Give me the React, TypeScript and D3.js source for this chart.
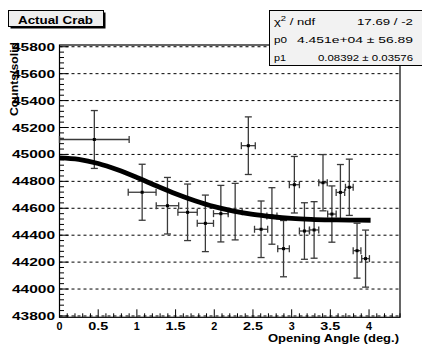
import React from "react";
import * as d3 from "d3";

const ptX = [0.45, 1.068, 1.395, 1.655, 1.885, 2.085, 2.27, 2.44, 2.605, 2.745, 2.895, 3.035, 3.165, 3.29, 3.405, 3.52, 3.63, 3.745, 3.845, 3.955];
const ptXErr = [0.45, 0.18, 0.145, 0.125, 0.105, 0.095, 0.09, 0.09, 0.085, 0.065, 0.075, 0.065, 0.065, 0.06, 0.055, 0.055, 0.055, 0.05, 0.05, 0.05];
const ptY = [45111, 44719, 44619, 44570, 44488, 44560, 44575, 45065, 44444, 44543, 44300, 44775, 44431, 44439, 44790, 44557, 44718, 44756, 44285, 44226];
const ptYErr = [215, 208, 210, 210, 210, 210, 210, 214, 210, 210, 209, 210, 210, 210, 209, 209, 207, 209, 204, 212];

const curveX = [0, 0.25, 0.5, 0.75, 1.0, 1.25, 1.5, 1.75, 2.0, 2.25, 2.5, 2.75, 3.0, 3.25, 3.5, 3.75, 4.02];
const curveY = [44975, 44964, 44933, 44886, 44829, 44767, 44708, 44656, 44612, 44579, 44554, 44537, 44525, 44518, 44514, 44512, 44511];

const yTicks = [43800, 44000, 44200, 44400, 44600, 44800, 45000, 45200, 45400, 45600, 45800];
const xTicks = [0, 0.5, 1, 1.5, 2, 2.5, 3, 3.5, 4];

const statsRows = [
  { label: "χ² / ndf", value: "17.69 / -2" },
  { label: "p0", value: "4.451e+04 ± 56.89" },
  { label: "p1", value: "0.08392 ± 0.03576" },
];

export default function App() {
  const W = 422, H = 346;
  const left = 59.5, right = 400, top = 45, bottom = 317.3;
  const x = d3.scaleLinear().domain([0, 4.4]).range([left, right]);
  const y = d3.scaleLinear().domain([43790, 45813]).range([bottom, top]);

  const yMinor = d3.range(43800, 45813, 40);
  const xMinor = d3.range(0, 4.41, 0.1);

  const line = d3.line<number>().x((_, i) => x(curveX[i])).y((v) => y(v)).curve(d3.curveCatmullRom);

  const font = "'Liberation Sans', Arial, Helvetica, sans-serif";
  const errColor = "#3a3a3a";

  return (
    <svg width={W} height={H} style={{ position: "absolute", left: 0, top: 0, background: "#fff" }} fontFamily={font}>
      <rect x={0} y={0} width={W} height={H} fill="#fff" />
      {/* grid */}
      {yTicks.map((t) => (
        <line key={"gy" + t} x1={left} x2={right} y1={y(t)} y2={y(t)} stroke="#000" strokeWidth={1} strokeDasharray="3,3" />
      ))}
      {/* minor y ticks */}
      {yMinor.map((t) => (
        <line key={"my" + t} x1={left} x2={left + (t % 200 === 0 ? 9 : 4.5)} y1={y(t)} y2={y(t)} stroke="#000" strokeWidth={1} />
      ))}
      {/* x ticks */}
      {xMinor.map((t, i) => (
        <line key={"mx" + i} x1={x(t)} x2={x(t)} y1={bottom} y2={bottom - (i % 5 === 0 ? 8 : 4)} stroke="#000" strokeWidth={1} />
      ))}
      {/* frame */}
      <rect x={left} y={top} width={right - left} height={bottom - top} fill="none" stroke="#000" strokeWidth={1.2} />

      {/* error bars */}
      {ptX.map((px, i) => {
        const cx = x(px), cy = y(ptY[i]);
        const x0 = x(px - ptXErr[i]), x1 = x(px + ptXErr[i]);
        const y0 = y(ptY[i] - ptYErr[i]), y1 = y(ptY[i] + ptYErr[i]);
        return (
          <g key={"p" + i} stroke={errColor} strokeWidth={1.3}>
            <line x1={cx} x2={cx} y1={y0} y2={y1} />
            <line x1={cx - 3.5} x2={cx + 3.5} y1={y0} y2={y0} />
            <line x1={cx - 3.5} x2={cx + 3.5} y1={y1} y2={y1} />
            <line x1={x0} x2={x1} y1={cy} y2={cy} />
            <line x1={x0} x2={x0} y1={cy - 3.5} y2={cy + 3.5} />
            <line x1={x1} x2={x1} y1={cy - 3.5} y2={cy + 3.5} />
            <rect x={cx - 1.5} y={cy - 1.5} width={3} height={3} fill="#000" stroke="none" />
          </g>
        );
      })}

      {/* fit curve */}
      <path d={line(curveY) || ""} fill="none" stroke="#000" strokeWidth={4.8} />

      {/* y tick labels */}
      {yTicks.map((t) => (
        <text key={"ly" + t} x={55} y={y(t) + 4} textAnchor="end" fontSize={11} fontWeight="bold" textLength={43} lengthAdjust="spacingAndGlyphs">
          {t}
        </text>
      ))}
      {/* x tick labels */}
      {xTicks.map((t) => {
        const s = String(t);
        return (
          <text key={"lx" + t} x={x(t) - (s.length > 1 ? 10 : 3)} y={329.5} fontSize={10.5} fontWeight="bold"
            textLength={s.length > 1 ? 20 : 6} lengthAdjust="spacingAndGlyphs">
            {s}
          </text>
        );
      })}

      {/* axis titles */}
      <text x={268} y={341.5} fontSize={10} fontWeight="bold" textLength={131} lengthAdjust="spacingAndGlyphs">Opening Angle (deg.)</text>
      <text transform="translate(18,116) rotate(-90)" x={0} y={0} fontSize={11} fontWeight="bold" textLength={74} lengthAdjust="spacingAndGlyphs">Counts/solid</text>

      {/* title box */}
      <rect x={10.5} y={12.5} width={95} height={16} fill="#000" />
      <rect x={8.5} y={10.5} width={95} height={16} fill="#eeeeee" stroke="#000" strokeWidth={1} />
      <text x={18} y={24} fontSize={11} fontWeight="bold" textLength={75} lengthAdjust="spacingAndGlyphs">Actual Crab</text>

      {/* stats box */}
      <rect x={269.5} y={10.5} width={160} height={55} fill="#f2f2f2" stroke="#000" strokeWidth={1} />
      {statsRows.map((r, i) => {
        const by = 24.5 + i * 18;
        const lens = [56, 116, 95];
        const llens = [41, 13, 12];
        return (
          <g key={"s" + i}>
            <text x={274} y={by} fontSize={9} textLength={llens[i]} lengthAdjust="spacingAndGlyphs">
              {i === 0 ? (<><tspan>χ</tspan><tspan dy={-4} fontSize={6.5}>2</tspan><tspan dy={4}> / ndf</tspan></>) : r.label}
            </text>
            <text x={413} y={by} fontSize={9} textAnchor="end" textLength={lens[i]} lengthAdjust="spacingAndGlyphs">{r.value}</text>
          </g>
        );
      })}
    </svg>
  );
}
